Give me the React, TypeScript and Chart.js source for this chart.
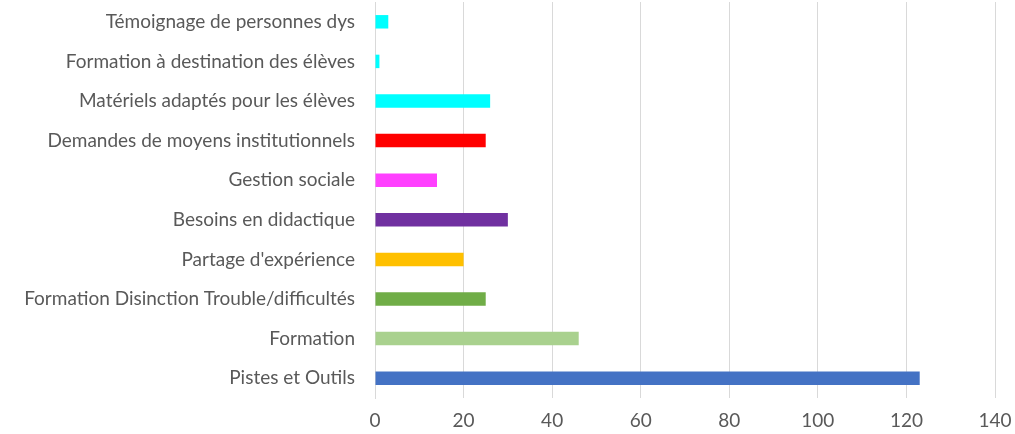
import React, { useEffect, useRef } from "react";
import { Chart, registerables } from "chart.js";

Chart.register(...registerables);

const categories = [
  "Témoignage de personnes dys",
  "Formation à destination des élèves",
  "Matériels adaptés pour les élèves",
  "Demandes de moyens institutionnels",
  "Gestion sociale",
  "Besoins en didactique",
  "Partage d'expérience",
  "Formation Disinction Trouble/difficultés",
  "Formation",
  "Pistes et Outils",
];

const counts = [3, 1, 26, 25, 14, 30, 20, 25, 46, 123];

const barColors = [
  "#00FFFF",
  "#00FFFF",
  "#00FFFF",
  "#FF0000",
  "#FF40FF",
  "#7030A0",
  "#FFC000",
  "#70AD47",
  "#A9D18E",
  "#4472C4",
];

const xMin = 0;
const xMax = 140;
const xStep = 20;

const FONT = "Lato, 'Open Sans', sans-serif";

export default function App() {
  const canvasRef = useRef<HTMLCanvasElement | null>(null);

  useEffect(() => {
    const canvas = canvasRef.current;
    if (!canvas) return;
    const chart = new Chart(canvas, {
      type: "bar",
      data: {
        labels: categories,
        datasets: [
          {
            data: counts,
            backgroundColor: barColors,
            borderWidth: 0,
            categoryPercentage: 1,
            barPercentage: 0.34,
          },
        ],
      },
      options: {
        indexAxis: "y",
        animation: false,
        responsive: false,
        maintainAspectRatio: false,
        layout: { padding: { top: 2, right: 20, left: 0, bottom: 0 } },
        plugins: {
          legend: { display: false },
          tooltip: { enabled: false },
        },
        scales: {
          x: {
            min: xMin,
            max: xMax,
            ticks: {
              stepSize: xStep,
              color: "#595959",
              font: { family: FONT, size: 19 },
              padding: 11,
            },
            grid: { color: "#D9D9D9", lineWidth: 1, drawTicks: false },
            border: { display: false },
            afterFit: (scale: any) => {
              scale.height = 36;
              scale.paddingLeft = 0;
              scale.paddingRight = 0;
            },
          },
          y: {
            ticks: {
              color: "#595959",
              font: { family: FONT, size: 19 },
              padding: 20,
              autoSkip: false,
            },
            grid: { display: false, drawTicks: false },
            border: { display: true, color: "#D9D9D9" },
            afterFit: (scale: any) => {
              scale.width = 375;
              scale.paddingTop = 0;
              scale.paddingBottom = 0;
            },
          },
        },
      },
    });
    return () => chart.destroy();
  }, []);

  return (
    <div style={{ position: "absolute", left: 0, top: 0, width: 1015, height: 434, background: "#fff" }}>
      <canvas ref={canvasRef} width={1015} height={434} />
    </div>
  );
}
